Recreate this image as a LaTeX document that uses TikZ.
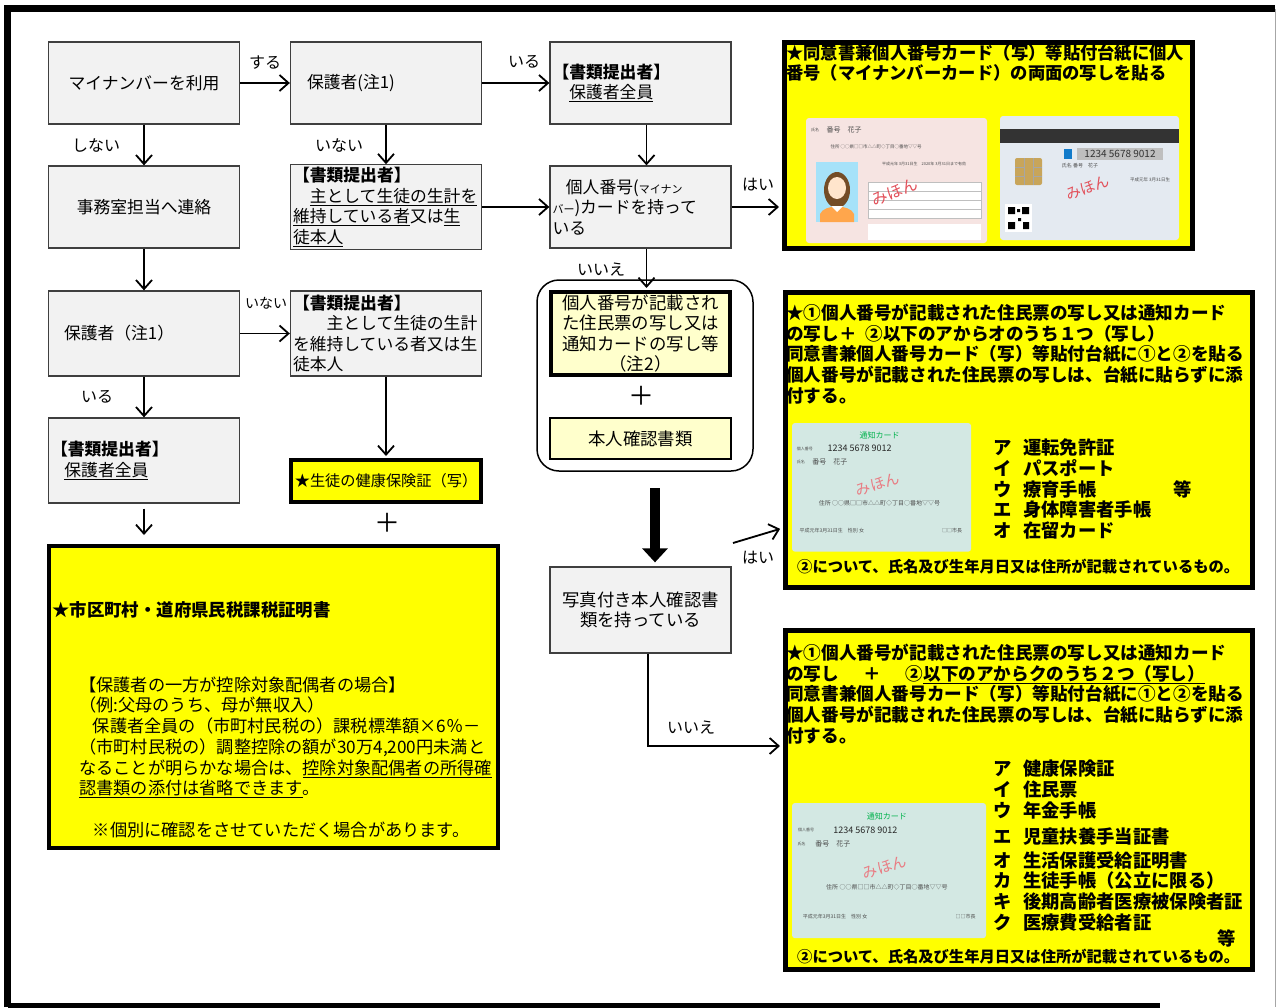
\documentclass[tikz,border=0pt]{standalone}
\usepackage{fontspec}
\setmainfont{Noto Sans CJK JP}
\usetikzlibrary{arrows.meta}
\definecolor{boxgray}{HTML}{F2F2F2}
\definecolor{edgegray}{HTML}{3F3F3F}
\definecolor{hiyellow}{HTML}{FFFF00}
\definecolor{paleyellow}{HTML}{FFFFCC}
\definecolor{cardteal}{HTML}{D3E8E3}
\definecolor{cardpink}{HTML}{F6E4E2}
\definecolor{cardblue}{HTML}{E4EAF1}
\definecolor{chipgold}{HTML}{C8A55A}
\definecolor{mihon}{HTML}{E2505A}
\newcommand{\cardfs}[1]{\fontsize{#1}{#1}\selectfont}
\newcommand{\itemkana}[1]{\makebox[1.65em][l]{#1}}
\tikzset{
    graybox/.style={draw=edgegray, line width=1.3pt, fill=boxgray, inner sep=2.5pt,
        minimum width=191pt, minimum height=82pt, font=\fontsize{16.8}{20.5}\selectfont},
    yelbox/.style={draw=black, line width=5pt, fill=hiyellow, inner sep=0pt},
    palebox/.style={draw=black, fill=paleyellow, inner sep=2pt, font=\fontsize{17.4}{20.3}\selectfont},
    flow/.style={-{Straight Barb[length=9pt,width=16pt]}, line width=1.8pt},
    bigflow/.style={-{Triangle[length=14pt,width=25pt]}, line width=10pt},
    lbl/.style={inner sep=0pt, font=\fontsize{16}{16}\selectfont},
    head/.style={inner sep=0pt, align=left, anchor=north west, font=\fontsize{17.6}{20.6}\selectfont\bfseries},
    list/.style={inner sep=0pt, align=left, anchor=north west, font=\fontsize{18.3}{20.6}\selectfont\bfseries},
    tiny/.style={inner sep=0pt, text=black!70}
}
% notification card: name, x, y, xscale, yscale
\newcommand{\noticecard}[5]{%
  \begin{scope}[shift={(#2,#3)}, xscale=#4, yscale=#5]
    \fill[cardteal, rounded corners=3pt] (0,0) rectangle (180,130);
    \node[tiny, text=teal!60!green, font=\cardfs{8}] (#1-title) at (88,13) {通知カード};
    \node[tiny, font=\cardfs{4}] (#1-numl) at (13,26) {個人番号};
    \node[tiny, text=black!85, font=\cardfs{9}] (#1-num) at (68,26) {1234 5678 9012};
    \node[tiny, font=\cardfs{4}] (#1-namel) at (9,39) {氏名};
    \node[tiny, font=\cardfs{7}] (#1-name) at (38,39) {番号　花子};
    \node[tiny, text=mihon!75, font=\cardfs{15}, rotate=18] (#1-mihon) at (86,62) {みほん};
    \node[tiny, font=\cardfs{6}] (#1-addr) at (88,81) {住所 ○○県□□市△△町◇丁目○番地▽▽号};
    \node[tiny, font=\cardfs{5}] (#1-birth) at (40,109) {平成元年3月31日生　性別 女};
    \node[tiny, font=\cardfs{5}] (#1-mayor) at (161,109) {□□市長};
  \end{scope}
}

\begin{document}
\begin{tikzpicture}[x=1pt, y=-1pt]
\useasboundingbox (0,0) rectangle (1280,1007);
% frame
\draw[line width=7pt] (7.5,1007) -- (7.5,8.5) -- (1275,8.5);
\draw[line width=5pt] (7.5,1005) -- (1160,1005);
\draw[gray!70, line width=1pt] (1275,8.5) -- (1275,1007);

% left and middle columns
\node[graybox] (use) at (144,83) {マイナンバーを利用};
\node[graybox, align=left, text width=186pt] (guard1) at (386,83) {\hspace*{14pt}保護者(注1)};
\node[graybox, minimum width=181pt, align=left, text width=176pt] (sub1) at (640.5,83) {\textbf{【書類提出者】}\\\hspace*{1em}\underline{保護者全員}};
\node[graybox] (office) at (144,207) {事務室担当へ連絡};
\node[graybox, align=left, text width=186pt] (sub2) at (386,207) {\textbf{【書類提出者】}\\\hspace*{1em}\underline{主として生徒の生計を}\\\underline{維持している者}又は\underline{生}\\\underline{徒本人}};
\node[graybox, minimum width=181pt, align=left, text width=176pt] (card) at (640.5,207) {\hspace*{0.8em}個人番号({\fontsize{11}{11}\selectfont マイナン}\\{\fontsize{11}{11}\selectfont バー})カードを持って\\いる};
\node[graybox, minimum height=85pt, align=left, text width=186pt] (guard2) at (144,333.5) {\hspace*{13pt}保護者（注1）};
\node[graybox, minimum height=85pt, align=left, text width=186pt] (sub3) at (386,333.5) {\textbf{【書類提出者】}\\\hspace*{2em}主として生徒の生計\\を維持している者又は生\\徒本人};
\node[graybox, minimum height=85pt, align=left, text width=186pt] (sub4) at (144,460.5) {\textbf{【書類提出者】}\\\hspace*{0.8em}\underline{保護者全員}};
\node[yelbox, line width=4pt, minimum width=190pt, minimum height=42pt, font=\fontsize{15.2}{18}\selectfont] (kenpo) at (386,481) {★生徒の健康保険証（写）};
\node[inner sep=0pt, font=\fontsize{26}{26}\selectfont] (plus1) at (387,523) {＋};
\node[yelbox, line width=4pt, minimum width=449pt, minimum height=302pt] (kazei) at (273.5,697) {};
\node[inner sep=0pt, anchor=west, font=\fontsize{17.4}{20}\selectfont\bfseries] (kazei-t) at (52,610) {★市区町村・道府県民税課税証明書};
\node[inner sep=0pt, anchor=north west, align=left, font=\fontsize{17.2}{20.7}\selectfont] (kazei-b) at (79,676.5) {【保護者の一方が控除対象配偶者の場合】\\（例:父母のうち、母が無収入）\\\hspace*{0.8em}保護者全員の（市町村民税の）課税標準額×6％－\\（市町村民税の）調整控除の額が30万4,200円未満と\\なることが明らかな場合は、\underline{控除対象配偶者の所得確}\\\underline{認書類の添付は省略できます}。\\[20.7pt]\hspace*{0.8em}※個別に確認をさせていただく場合があります。};

% centre column
\node[draw, line width=1.5pt, rounded corners=22pt, minimum width=216pt, minimum height=191pt] (grp) at (645,375.5) {};
\node[palebox, line width=4pt, minimum width=179pt, minimum height=83pt, align=center] (juminhyo) at (640.5,333.5) {個人番号が記載され\\た住民票の写し又は\\通知カードの写し等\\（注2）};
\node[inner sep=0pt, font=\fontsize{26}{26}\selectfont] (plus2) at (641,396) {＋};
\node[palebox, line width=1.3pt, minimum width=181pt, minimum height=41pt] (honnin) at (640.5,438.5) {本人確認書類};
\node[graybox, minimum width=181pt, minimum height=86pt, align=center, font=\fontsize{17.4}{20.7}\selectfont] (photo) at (640.5,610) {写真付き本人確認書\\類を持っている};

% right column
\node[yelbox, minimum width=408pt, minimum height=206pt] (r1) at (988.5,145.5) {};
\node[head, font=\fontsize{17.3}{20.5}\selectfont\bfseries] (r1-t) at (786,44) {★同意書兼個人番号カード（写）等貼付台紙に個人\\番号（マイナンバーカード）の両面の写しを貼る};
\node[yelbox, minimum width=467pt, minimum height=295pt] (r2) at (1019,440) {};
\node[head] (r2-t) at (786,304) {★①個人番号が記載された住民票の写し又は通知カード\\の写し＋\hspace{0.5em}②以下のアからオのうち１つ（写し）\\同意書兼個人番号カード（写）等貼付台紙に①と②を貼る\\個人番号が記載された住民票の写しは、台紙に貼らずに添\\付する。};
\node[list] (r2-l) at (993,439) {\itemkana{ア}運転免許証\\\itemkana{イ}パスポート\\\itemkana{ウ}療育手帳\hspace{4.2em}等\\\itemkana{エ}身体障害者手帳\\\itemkana{オ}在留カード};
\node[inner sep=0pt, anchor=west, font=\fontsize{15.3}{16}\selectfont\bfseries] (r2-n) at (797,567) {②について、氏名及び生年月日又は住所が記載されているもの。};
\node[yelbox, minimum width=467pt, minimum height=339pt] (r3) at (1019,800) {};
\node[head] (r3-t) at (786,644) {★①個人番号が記載された住民票の写し又は通知カード\\の写し\hspace{1.4em}＋\hspace{1.4em}②\underline{以下のアからクのうち２つ（写し）}\\同意書兼個人番号カード（写）等貼付台紙に①と②を貼る\\個人番号が記載された住民票の写しは、台紙に貼らずに添\\付する。};
\node[list] (r3-l) at (993,760) {\itemkana{ア}健康保険証\\\itemkana{イ}住民票\\\itemkana{ウ}年金手帳\\[6pt]\itemkana{エ}児童扶養手当証書\\[3pt]\itemkana{オ}生活保護受給証明書\\\itemkana{カ}生徒手帳（公立に限る）\\\itemkana{キ}後期高齢者医療被保険者証\\\itemkana{ク}医療費受給者証};
\node[inner sep=0pt, font=\fontsize{18.3}{20}\selectfont\bfseries] (r3-etc) at (1227,938) {等};
\node[inner sep=0pt, anchor=west, font=\fontsize{15.3}{16}\selectfont\bfseries] (r3-n) at (797,957) {②について、氏名及び生年月日又は住所が記載されているもの。};

% card pictures
\begin{scope}[shift={(806,118)}]
  \fill[cardpink, rounded corners=3pt] (0,0) rectangle (181,125);
  \node[tiny, font=\cardfs{4}] (f-namel) at (9,12) {氏名};
  \node[tiny, font=\cardfs{7}] (f-name) at (38,12) {番号　花子};
  \node[tiny, font=\cardfs{4.5}] (f-addr) at (70,29) {住所 ○○県□□市△△町◇丁目○番地▽▽号};
  \node[tiny, font=\cardfs{4}] (f-valid) at (118,46) {平成元年 3月31日生　2020年 3月31日まで有効};
  \fill[cyan!35!white] (10,44) rectangle (52,104);
  \fill[brown!60!black] (31,72) ellipse [x radius=13, y radius=18];
  \fill[orange!70] (14,104) -- (14,96) .. controls (18,86) and (44,86) .. (48,96) -- (48,104) -- cycle;
  \fill[white] (25,88) -- (31,94) -- (37,88) -- cycle;
  \fill[orange!20!white] (31,70) ellipse [x radius=9, y radius=11];
  \fill[white] (62,64) rectangle (175,100);
  \draw[gray!50] (62,64) rectangle (175,100) (62,73) -- (175,73) (62,82) -- (175,82) (62,91) -- (175,91);
  \node[tiny, text=mihon, font=\cardfs{16}, rotate=22] (f-mihon) at (89,74) {みほん};
  \fill[white] (62,106) rectangle (175,122);
\end{scope}
\begin{scope}[shift={(1000,116)}]
  \fill[cardblue, rounded corners=3pt] (0,0) rectangle (179,124);
  \fill[black!80] (0,13) rectangle (179,27);
  \fill[cyan!60!blue] (64,33) rectangle (72,43);
  \fill[gray!50] (77,32) rectangle (163,44);
  \node[tiny, text=black!80, font=\cardfs{10}] (b-num) at (120,38) {1234 5678 9012};
  \node[tiny, font=\cardfs{5}] (b-name) at (80,50) {氏名 番号　花子};
  \fill[chipgold, rounded corners=2pt] (15,42) rectangle (42,69);
  \draw[black!35] (15,51) -- (24,51) (33,51) -- (42,51) (15,60) -- (24,60) (33,60) -- (42,60) (24,42) -- (24,69) (33,42) -- (33,69);
  \node[tiny, text=mihon, font=\cardfs{15}, rotate=20] (b-mihon) at (88,72) {みほん};
  \node[tiny, font=\cardfs{4.5}] (b-birth) at (150,64) {平成元年 3月31日生};
  \fill[white] (5,88) rectangle (32,116);
  \fill[black] (8,91) rectangle (15,98) (22,91) rectangle (29,98) (8,106) rectangle (15,113) (18,102) rectangle (21,105) (23,106) rectangle (29,113) (17,93) rectangle (20,96);
\end{scope}
\noticecard{nc1}{792}{423}{0.995}{0.99}
\noticecard{nc2}{792}{803}{1.078}{1.04}

% labels
\node[lbl] (l-suru) at (265,63) {する};
\node[lbl] (l-iru1) at (524,62) {いる};
\node[lbl] (l-shinai) at (96,145) {しない};
\node[lbl] (l-inai1) at (339,145) {いない};
\node[lbl] (l-hai1) at (758,185) {はい};
\node[lbl] (l-iie1) at (601,270) {いいえ};
\node[lbl, font=\fontsize{14}{14}\selectfont] (l-inai2) at (266,303) {いない};
\node[lbl] (l-iru2) at (97,397) {いる};
\node[lbl] (l-hai2) at (758,558) {はい};
\node[lbl] (l-iie2) at (691,728) {いいえ};

% connectors
\draw[flow] (use) -- (guard1);
\draw[flow] (guard1) -- (sub1);
\draw[flow] (use) -- (office);
\draw[flow] (guard1) -- (sub2);
\draw[flow] ([xshift=6pt]sub1.south) -- ([xshift=6pt]card.north);
\draw[flow] (sub2) -- (card);
\draw[flow, shorten >=3pt] (card.east) -- (card.east -| r1.west);
\draw[flow, shorten >=2pt] ([xshift=6pt]card.south) -- ([xshift=6pt]card.south |- juminhyo.north);
\draw[flow] (office) -- (guard2);
\draw[flow] (guard2) -- (sub3);
\draw[flow] (guard2) -- (sub4);
\draw[flow, shorten >=2pt] (sub3) -- (kenpo);
\draw[flow, shorten <=5pt, shorten >=9pt] (sub4.south) -- (sub4.south |- kazei.north);
\coordinate (bigs) at (655,488);
\draw[bigflow, shorten >=4pt] (bigs) -- (bigs |- photo.north);
\coordinate (hai2s) at (733,543);
\draw[flow, shorten >=3pt] (hai2s) -- ([yshift=-88pt]r2.west);
\draw[flow, shorten >=3pt] ([xshift=7.5pt]photo.south) |- ([yshift=54pt]r3.west);
\end{tikzpicture}
\end{document}
